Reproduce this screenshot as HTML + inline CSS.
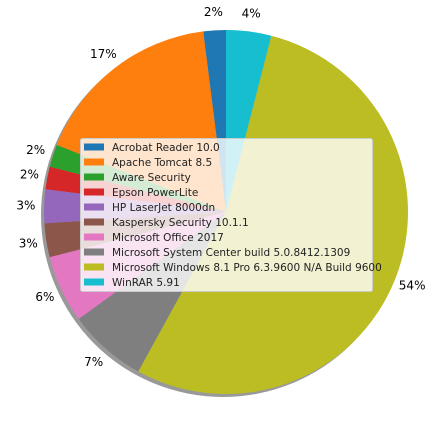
<!DOCTYPE html>
<html><head><meta charset="utf-8"><style>
body{margin:0;background:#fff}
svg{display:block;font-family:"DejaVu Sans","Liberation Sans",sans-serif}
</style></head><body>
<svg id="chart" width="441" height="424">
<circle cx="223" cy="215" r="182" fill="#000" opacity="0.4"></circle>
<g id="slices"></g>
<g id="labels"></g>
<g id="legend"></g>
</svg>
<script>
const categories=["Acrobat Reader 10.0","Apache Tomcat 8.5","Aware Security","Epson PowerLite","HP LaserJet 8000dn","Kaspersky Security 10.1.1","Microsoft Office 2017","Microsoft System Center build 5.0.8412.1309","Microsoft Windows 8.1 Pro 6.3.9600 N/A Build 9600","WinRAR 5.91"];
const values=[2,17,2,2,3,3,6,7,54,4];
const colors=["#1f77b4","#ff7f0e","#2ca02c","#d62728","#9467bd","#8c564b","#e377c2","#7f7f7f","#bcbd22","#17becf"];
const NS="http://www.w3.org/2000/svg";
const cx=226,cy=212,r=182;
const total=values.reduce((a,b)=>a+b,0);
const sg=document.getElementById('slices'),lg=document.getElementById('labels'),leg=document.getElementById('legend');
let acc=0;
function pt(a,rr){return [cx+rr*Math.cos(a),cy-rr*Math.sin(a)];}
values.forEach((v,i)=>{
  const a0=Math.PI/2+acc/total*2*Math.PI;acc+=v;
  const a1=Math.PI/2+acc/total*2*Math.PI;
  const p0=pt(a0,r),p1=pt(a1,r);
  const large=(a1-a0)>Math.PI?1:0;
  const p=document.createElementNS(NS,'path');
  p.setAttribute('d',`M${cx},${cy}L${p0[0]},${p0[1]}A${r},${r} 0 ${large} 0 ${p1[0]},${p1[1]}Z`);
  p.setAttribute('fill',colors[i]);
  
  
  sg.appendChild(p);
  const am=(a0+a1)/2,lp=pt(am,r*1.1);
  const t=document.createElementNS(NS,'text');
  t.setAttribute('x',lp[0]);t.setAttribute('y',lp[1]+4);
  t.setAttribute('font-size','12');
  t.setAttribute('text-anchor','middle');
  t.textContent=Math.round(v/total*100)+'%';
  
  
  lg.appendChild(t);
});
const box=document.createElementNS(NS,'rect');
box.setAttribute('x',80.5);box.setAttribute('y',138.5);box.setAttribute('width',292);box.setAttribute('height',153);
box.setAttribute('rx',2);box.setAttribute('fill','#fff');box.setAttribute('fill-opacity','0.8');box.setAttribute('stroke','#ccc');


leg.appendChild(box);
categories.forEach((c,i)=>{
  const y=147+i*15;
  const s=document.createElementNS(NS,'rect');
  s.setAttribute('x',84);s.setAttribute('y',y-3.5);s.setAttribute('width',20);s.setAttribute('height',7);s.setAttribute('fill',colors[i]);
  
  
  leg.appendChild(s);
  const t=document.createElementNS(NS,'text');
  t.setAttribute('x',112);t.setAttribute('y',y+4);t.setAttribute('font-size','10.5');t.setAttribute('fill','#222');
  t.textContent=c;
  
  
  leg.appendChild(t);
});
</script>
</body></html>
